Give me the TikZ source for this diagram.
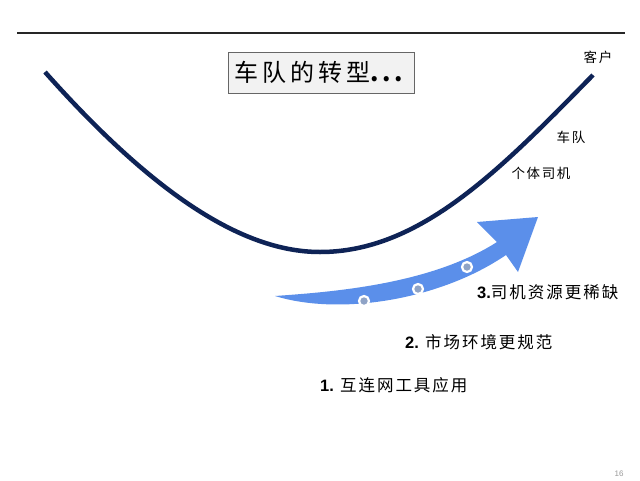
\documentclass[tikz,border=0pt]{standalone}
\usepackage{fontspec}
\setmainfont{Liberation Sans}
\newfontfamily\cjk{Noto Sans CJK SC}[LetterSpace=12]
\newfontfamily\cjkt{Noto Sans CJK SC}[LetterSpace=16]
\definecolor{navy}{HTML}{0E2356}
\definecolor{arrowblue}{HTML}{5B8FEA}
\definecolor{boxgray}{HTML}{F2F2F2}
\definecolor{dotfill}{HTML}{8FA3C6}
\begin{document}
\begin{tikzpicture}[x=1pt,y=-1pt,
  lbl/.style={inner sep=0pt,font=\fontsize{16.5}{18}\selectfont},
  small/.style={inner sep=0pt,font=\cjk\fontsize{13.5}{15}\selectfont},
  dot/.style={circle,draw=white,line width=2.2pt,fill=dotfill,minimum size=10pt,inner sep=0pt}]
\useasboundingbox (0,0) rectangle (640,480);
\fill[white] (0,0) rectangle (640,480);
% top rule
\coordinate (rl) at (17,33);
\coordinate (rr) at (625,33);
\draw[line width=2pt,black!85] (rl) -- (rr);
% U curve
\coordinate (ua) at (45,72);
\coordinate (ub) at (320,252);
\coordinate (uc) at (593,75);
\draw[navy,line width=4.5pt] (ua) .. controls (150,190) and (240,252) .. (ub)
  .. controls (420,252) and (500,170) .. (uc);
% title
\node[draw=black!60,fill=boxgray,line width=0.8pt,minimum width=186pt,minimum height=41pt,inner sep=0pt,
  font=\cjkt\fontsize{24}{26}\selectfont] (title) at (321,72.5) {车队的转型\textbf{...}};
% arrow
\fill[arrowblue] (275,296) .. controls (330,292) and (430,285) .. (497,242)
  -- (477,222) -- (538,217) -- (518,272) -- (506,255)
  .. controls (440,300) and (340,316) .. (275,296) -- cycle;
\node[dot] (d1) at (364,301) {};
\node[dot] (d2) at (418,289) {};
\node[dot] (d3) at (467,267) {};
% labels right
\node[small,anchor=center] (kh) at (598,57) {客户};
\node[small,anchor=center] (cd) at (571,137) {车队};
\node[small,anchor=center] (gt) at (541,173) {个体司机};
% numbered items
\node[lbl,anchor=west] (t3) at (477,292) {\textbf{3.}{\cjk 司机资源更稀缺}};
\node[lbl,anchor=west] (t2) at (405,342) {\textbf{2.} {\cjk 市场环境更规范}};
\node[lbl,anchor=west] (t1) at (320,385) {\textbf{1.} {\cjk 互连网工具应用}};
\node[inner sep=0pt,font=\fontsize{8}{9}\selectfont,text=black!40] (pg) at (619,474) {16};
\end{tikzpicture}
\end{document}
